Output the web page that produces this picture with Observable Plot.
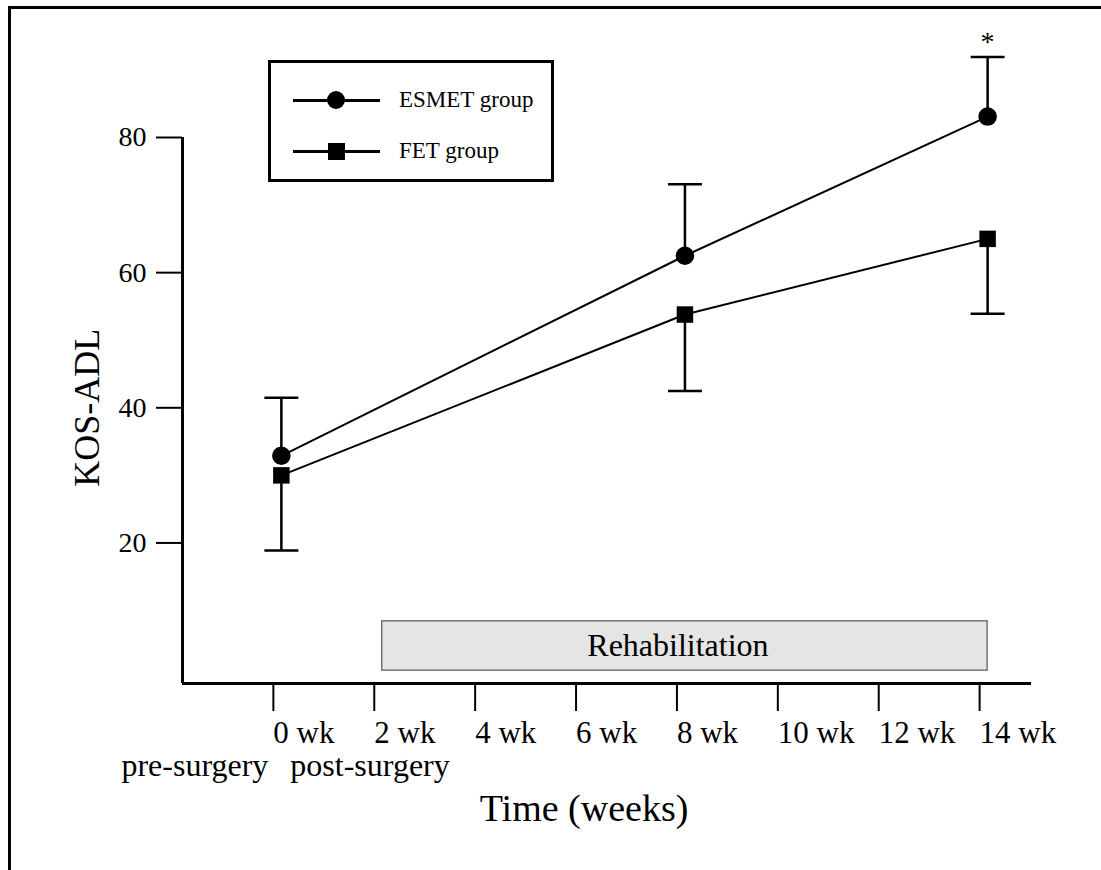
<!DOCTYPE html>
<html>
<head>
<meta charset="utf-8">
<script src="https://cdn.jsdelivr.net/npm/d3@7"></script>
<script src="https://cdn.jsdelivr.net/npm/@observablehq/plot@0.6"></script>
<style>
  html, body { margin: 0; padding: 0; background: #fff; }
  #wrap { position: relative; width: 1101px; height: 870px; overflow: hidden; font-family: "Liberation Serif", "DejaVu Serif", serif; color: #000; }
  #frame { position: absolute; left: 8px; top: 6px; width: 1110px; height: 900px; border-left: 3px solid #000; border-top: 3px solid #000; box-sizing: border-box; }
  #chart { position: absolute; left: 0; top: 0; }
  #legend { position: absolute; left: 268px; top: 60px; width: 286px; height: 122px; border: 3px solid #000; box-sizing: border-box; background: #fff; }
  .lrow { position: absolute; left: 0; height: 30px; width: 100%; }
  .lline { position: absolute; left: 22px; width: 87px; top: 14px; height: 3px; background: #000; }
  .lsym { position: absolute; background: #000; }
  .ltext { position: absolute; left: 128px; top: 0; font-size: 23px; line-height: 30px; white-space: nowrap; }
</style>
</head>
<body>
<div id="wrap">
  <div id="frame"></div>
  <div id="chart"></div>
  <div id="legend"></div>
</div>
<script>
// ---- data ----
const groups = ["ESMET group", "FET group"];
const weeks = [0, 8, 14];
const esmetMean = [32.9, 62.5, 83.1];
const esmetSD = [8.6, 10.6, 8.8];
const fetMean = [30.0, 53.8, 65.0];
const fetSD = [11.1, 11.3, 11.1];
const xTicks = [0, 2, 4, 6, 8, 10, 12, 14];
const yTicks = [20, 40, 60, 80];
const rehab = [{start: 2, end: 14, low: 1.1, high: 8.4, label: "Rehabilitation"}];
const significance = [{week: 14, mark: "*"}];
const preLabel = ["pre-surgery"];
const postLabel = ["post-surgery"];
const xTitle = ["Time (weeks)"];
const yTitle = ["KOS-ADL"];

const xDomain = [-1.96, 14.87];
const yDomain = [-0.8, 80];

const rows = [];
weeks.forEach((w, i) => {
  rows.push({group: groups[0], week: w, mean: esmetMean[i], sd: esmetSD[i], dir: 1});
  rows.push({group: groups[1], week: w, mean: fetMean[i], sd: fetSD[i], dir: -1});
});
rows.forEach(d => d.end = d.mean + d.dir * d.sd);
const esmetEnd = rows.filter(d => d.group === groups[0] && d.week === 14)[0].end;

const capSymbol = { draw(ctx, size) { ctx.moveTo(-17, 0); ctx.lineTo(17, 0); } };

const chart = Plot.plot({
  width: 1101,
  height: 870,
  marginLeft: 182,
  marginRight: 70,
  marginTop: 137,
  marginBottom: 187,
  x: {domain: xDomain, axis: null},
  y: {domain: yDomain, axis: null},
  style: {fontFamily: "Liberation Serif", color: "#000", background: "transparent", overflow: "visible"},
  marks: [
    // rehabilitation box
    Plot.rect(rehab, {x1: "start", x2: "end", y1: "low", y2: "high", fill: "#e5e5e5", stroke: "#555", strokeWidth: 1.2}),
    Plot.text(rehab, {x: d => (d.start + d.end) / 2, y: d => (d.low + d.high) / 2, text: "label", fontSize: 32, dx: -7, fill: "#000"}),
    // axes
    Plot.ruleX([xDomain[0]], {y1: yDomain[0], y2: yDomain[1], strokeWidth: 3}),
    Plot.ruleY([yDomain[0]], {x1: xDomain[0], x2: xDomain[1], strokeWidth: 3}),
    Plot.axisY({ticks: yTicks, tickSize: 26, tickPadding: 10, fontSize: 28, strokeWidth: 2, label: null, tickFormat: d => String(d)}),
    Plot.axisX({ticks: xTicks, tickSize: 28, tickPadding: 9, fontSize: 31, strokeWidth: 2, label: null, textAnchor: "start", dx: -8, tickFormat: d => d + " wk"}),
    Plot.text(preLabel, {x: [0], text: d => d, frameAnchor: "bottom", lineAnchor: "middle", textAnchor: "end", dx: -13, dy: 82, fontSize: 32}),
    Plot.text(postLabel, {x: [0], text: d => d, frameAnchor: "bottom", lineAnchor: "middle", textAnchor: "start", dx: 9, dy: 82, fontSize: 32}),
    Plot.text(xTitle, {x: [6], text: d => d, frameAnchor: "bottom", lineAnchor: "middle", textAnchor: "middle", dy: 125, fontSize: 38}),
    Plot.text(yTitle, {y: [40], text: d => d, frameAnchor: "left", lineAnchor: "middle", textAnchor: "middle", rotate: -90, dx: -95, fontSize: 36}),
    // lines
    Plot.line(rows, {x: "week", y: "mean", z: "group", stroke: "#000", strokeWidth: 2}),
    // error bars
    Plot.ruleX(rows, {x: "week", y1: "mean", y2: "end", stroke: "#000", strokeWidth: 2.5}),
    Plot.dot(rows, {x: "week", y: "end", symbol: capSymbol, stroke: "#000", strokeWidth: 2.5, fill: "none"}),
    // markers
    Plot.dot(rows, {x: "week", y: "mean", symbol: d => d.group === groups[0] ? "circle" : "square", r: 9.3, fill: "#000", stroke: "none"}),
    // significance
    Plot.text(significance, {x: "week", y: () => esmetEnd, text: "mark", dy: -15, fontSize: 28})
  ]
});
chart.querySelectorAll("text").forEach(t => t.setAttribute("fill", "#000"));
document.getElementById("chart").appendChild(chart);

// legend
const legend = document.getElementById("legend");
groups.forEach((g, i) => {
  const row = document.createElement("div");
  row.className = "lrow";
  row.style.top = (i === 0 ? 22 : 73) + "px";
  const line = document.createElement("div");
  line.className = "lline";
  row.appendChild(line);
  const sym = document.createElement("div");
  sym.className = "lsym";
  if (i === 0) { sym.style.cssText = "left:56px;top:6px;width:18px;height:18px;border-radius:50%"; }
  else { sym.style.cssText = "left:57px;top:7px;width:17px;height:17px"; }
  row.appendChild(sym);
  const txt = document.createElement("div");
  txt.className = "ltext";
  txt.textContent = g;
  row.appendChild(txt);
  legend.appendChild(row);
});
</script>
</body>
</html>
